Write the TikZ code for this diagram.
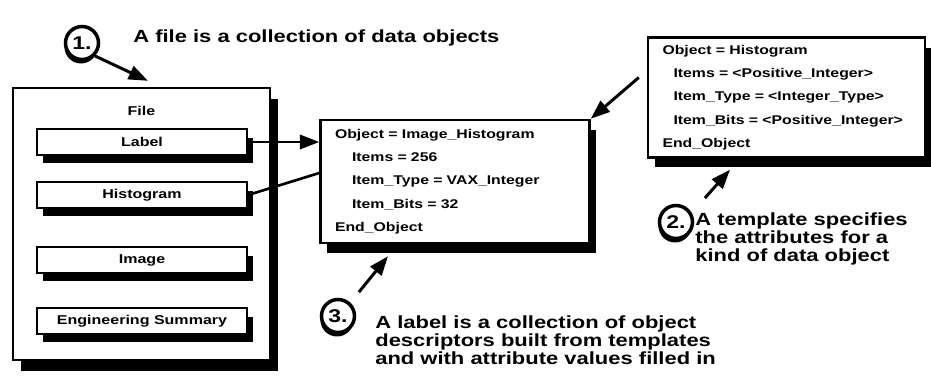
\documentclass[tikz,border=0pt]{standalone}
\usepackage{fontspec}
\usepackage{tikz}
\usetikzlibrary{arrows.meta, positioning, calc, shadows}
\newfontfamily\pdsfont{Liberation Sans}[FakeStretch=1.25]

\begin{document}
\begin{tikzpicture}[x=0.02cm, y=-0.02cm,
    font=\pdsfont\bfseries,
    frame/.style={draw, line width=1.4pt, fill=white, minimum width=5.14cm, minimum height=5.44cm,
        drop shadow={shadow xshift=0.16cm, shadow yshift=-0.22cm, opacity=1, fill=black}},
    part/.style={draw, line width=1.2pt, fill=white, minimum width=4.2cm, minimum height=0.52cm, inner sep=0pt,
        font=\pdsfont\bfseries\fontsize{7.3}{8}\selectfont,
        drop shadow={shadow xshift=0.12cm, shadow yshift=-0.17cm, opacity=1, fill=black}},
    descr/.style={draw, line width=1.4pt, fill=white, align=left, inner xsep=0.29cm,
        font=\pdsfont\bfseries\fontsize{7.2}{13.3}\selectfont,
        drop shadow={shadow xshift=0.13cm, shadow yshift=-0.2cm, opacity=1, fill=black}},
    num/.style={circle, draw, line width=2pt, fill=white, minimum size=0.66cm, inner sep=0pt,
        font=\pdsfont\bfseries\fontsize{10.5}{12}\selectfont,
        drop shadow={shadow xshift=-0.02cm, shadow yshift=-0.08cm, opacity=1, fill=black}},
    note/.style={align=left, inner sep=0pt, font=\pdsfont\bfseries\fontsize{10}{10.3}\selectfont},
    callout/.style={line width=1.7pt, -{Triangle[length=11pt, width=8pt]}},
    link/.style={line width=1.5pt}]

    \useasboundingbox (0,0) rectangle (931,379);

    % File and its parts
    \node[frame] (file) at (141.5,224) {};
    \node[font=\pdsfont\bfseries\fontsize{7.3}{8}\selectfont] (filetitle) at ([yshift=-0.48cm]file.north) {File};
    \node[part] (label) at (142,142) {Label};
    \node[part] (hist) at (142,195) {Histogram};
    \node[part] (image) at (142,260) {Image};
    \node[part] (eng) at (142,321) {Engineering Summary};

    % Object descriptor in the label
    \node[descr, text width=4.8cm, minimum height=2.46cm] (desc) at (455,181.5) {
        Object = Image\_Histogram\\
        \hspace*{0.34cm}Items = 256\\
        \hspace*{0.34cm}Item\_Type = VAX\_Integer\\
        \hspace*{0.34cm}Item\_Bits = 32\\
        End\_Object};

    % Template
    \node[descr, text width=4.96cm, minimum height=2.4cm] (tmpl) at (786.5,97.5) {
        Object = Histogram\\
        \hspace*{0.22cm}Items = <Positive\_Integer>\\
        \hspace*{0.22cm}Item\_Type = <Integer\_Type>\\
        \hspace*{0.22cm}Item\_Bits = <Positive\_Integer>\\
        End\_Object};

    % Numbered notes
    \node[num] (c1) at (82,43) {1.};
    \node[note, anchor=west] (n1) at (133,38) {A file is a collection of data objects};
    \node[num] (c2) at (676,222) {2.};
    \node[note, anchor=west] (n2) at (695,239) {A template specifies\\the attributes for a\\kind of data object};
    \node[num] (c3) at (338,316) {3.};
    \node[note, anchor=west] (n3) at (375,340) {A label is a collection of object\\descriptors built from templates\\and with attribute values filled in};

    % Connectors
    \draw[callout] (c1.south east) -- ([shift={(0.13cm,0.12cm)}]file.north);
    \draw[callout] (label.east) -- (label.east -| desc.west);
    \draw[link] (hist.east) -- ([yshift=0.17cm]desc.west);
    \draw[callout] ([shift={(-0.16cm,0.4cm)}]tmpl.west) -- (desc.north east);
    \draw[callout] ([shift={(0.32cm,0.22cm)}]c2.north east) -- ([shift={(-1.13cm,-0.22cm)}]tmpl.south);
    \draw[callout] ([shift={(0.16cm,0.22cm)}]c3.north east) -- ([shift={(-1.34cm,-0.24cm)}]desc.south);
\end{tikzpicture}
\end{document}
